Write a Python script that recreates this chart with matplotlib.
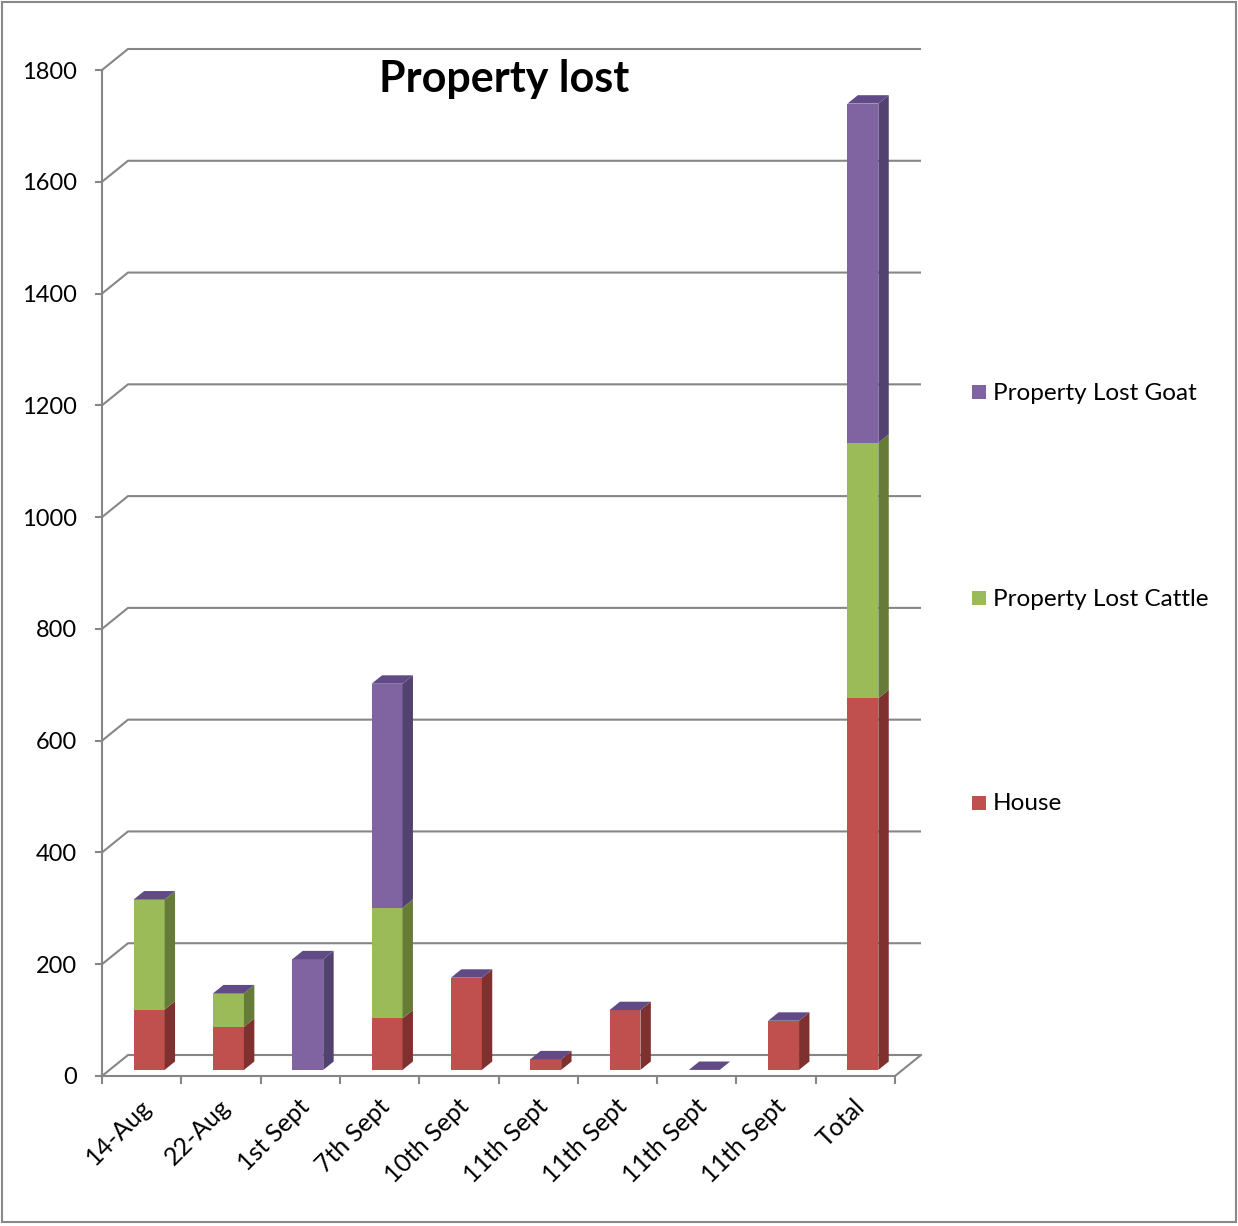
import matplotlib
matplotlib.use("Agg")
import matplotlib.pyplot as plt
from matplotlib.patches import Polygon, Rectangle

# ---- data ----
categories = ["14-Aug", "22-Aug", "1st Sept", "7th Sept", "10th Sept",
              "11th Sept", "11th Sept", "11th Sept", "11th Sept", "Total"]
house = [108, 77, 0, 92, 165, 19, 107, 0, 88, 665]
cattle = [197, 60, 0, 198, 0, 0, 0, 0, 0, 457]
goat = [0, 0, 198, 401, 0, 0, 0, 0, 0, 607]
series_names = ["House", "Property Lost Cattle", "Property Lost Goat"]
y_ticks = [0, 200, 400, 600, 800, 1000, 1200, 1400, 1600, 1800]

# ---- styling ----
FONT = "Lato"
GRID = "#868686"
front_col = {"House": "#C0504D", "Property Lost Cattle": "#9BBB59",
             "Property Lost Goat": "#8064A2"}
side_col = {"House": "#7F312F", "Property Lost Cattle": "#667B37",
            "Property Lost Goat": "#534170"}
top_col = {"House": "#9A3F3C", "Property Lost Cattle": "#7D9747",
           "Property Lost Goat": "#614B86"}

W, H = 1238, 1226
fig = plt.figure(figsize=(W / 100, H / 100), dpi=100)
fig.patch.set_facecolor("white")

# front plane of the 3-D box, in pixels
x_left, x_right = 102, 895
y_bot, y_top = 1076, 70
ax = fig.add_axes([x_left / W, 1 - y_bot / H, (x_right - x_left) / W, (y_bot - y_top) / H])
ax.set_xlim(0, len(categories))
ax.set_ylim(0, 1800)
ax.axis("off")

# depth of the box expressed in data units
px_per_cat = (x_right - x_left) / len(categories)
px_per_val = (y_bot - y_top) / 1800
DX = 26 / px_per_cat
DY = 21 / px_per_val

lw = 1.5
# back wall gridlines with their diagonal on the left side wall
for v in y_ticks:
    ax.plot([0, DX, len(categories) + DX], [v, v + DY, v + DY],
            color=GRID, lw=lw, clip_on=False, zorder=1, solid_capstyle="butt")
# floor front edge and right edge
ax.plot([0, len(categories), len(categories) + DX], [0, 0, DY],
        color=GRID, lw=lw, clip_on=False, zorder=1)
# front vertical axis
ax.plot([0, 0], [0, 1800], color=GRID, lw=lw, clip_on=False, zorder=1)

# y ticks and labels
tick_px = 6 / px_per_cat
for v in y_ticks:
    ax.plot([-tick_px, 0], [v, v], color=GRID, lw=lw, clip_on=False)
    ax.text(-25 / px_per_cat, v - 2 / px_per_val, str(v), ha="right", va="center",
            fontsize=17, family=FONT, color="black")

# x ticks
for k in range(len(categories) + 1):
    ax.plot([k, k], [0, -7 / px_per_val], color=GRID, lw=lw, clip_on=False)

# x labels, rotated
for k, lab in enumerate(categories):
    ax.text(k + 0.5 + 6 / px_per_cat, -27 / px_per_val, lab, ha="right", va="center",
            rotation=45, rotation_mode="anchor", fontsize=18, family=FONT)

# ---- 3-D stacked bars ----
bar_w = 0.39
f_front = 0.29   # depth position of bar front face
f_depth = 0.40   # depth of each bar
dx, dy = f_depth * DX, f_depth * DY

def draw_block(xc, y0, y1, name, z, draw_top):
    x0 = xc - bar_w / 2 + f_front * DX
    x1 = xc + bar_w / 2 + f_front * DX
    b = y0 + f_front * DY
    t = y1 + f_front * DY
    if y1 > y0:
        ax.add_patch(Polygon([(x0, b), (x1, b), (x1, t), (x0, t)], closed=True,
                             facecolor=front_col[name], edgecolor="none", zorder=z, clip_on=False))
        ax.add_patch(Polygon([(x1, b), (x1 + dx, b + dy), (x1 + dx, t + dy), (x1, t)], closed=True,
                             facecolor=side_col[name], edgecolor="none", zorder=z, clip_on=False))
    if draw_top:
        ax.add_patch(Polygon([(x0, t), (x1, t), (x1 + dx, t + dy), (x0 + dx, t + dy)], closed=True,
                             facecolor=top_col[name], edgecolor="none", zorder=z + 0.5, clip_on=False))

stacks = [house, cattle, goat]
for k in range(len(categories)):
    xc = k + 0.5
    base = 0
    for s, (name, vals) in enumerate(zip(series_names, stacks)):
        v = vals[k]
        last = s == len(stacks) - 1
        draw_block(xc, base, base + v, name, 3 + s, draw_top=last)
        base += v

# ---- title ----
fig.text(504 / W, 1 - 79 / H, "Property lost", ha="center", va="center",
         fontsize=31, fontweight="bold", family=FONT)

# ---- legend ----
legend_rows = [("Property Lost Goat", 392), ("Property Lost Cattle", 598), ("House", 803)]
for name, yy in legend_rows:
    fig.add_artist(Rectangle((972 / W, 1 - (yy + 7) / H), 14 / W, 14 / H,
                             transform=fig.transFigure, facecolor=front_col[name],
                             edgecolor="none"))
    fig.text(993 / W, 1 - (yy + 1) / H, name, ha="left", va="center", fontsize=17.5, family=FONT)

# outer border
fig.add_artist(Rectangle((1.5 / W, 4 / H), (W - 4) / W, (H - 6) / H, transform=fig.transFigure,
                         facecolor="none", edgecolor="#898989", lw=1.5))

fig.savefig("out.png", dpi=100)
